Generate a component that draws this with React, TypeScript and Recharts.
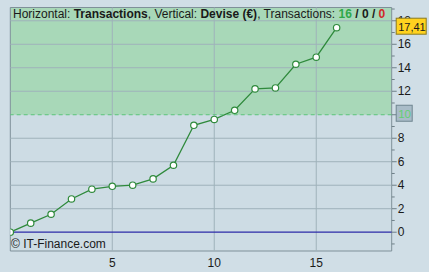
import React from 'react';
import { ComposedChart, Line, XAxis, YAxis, ReferenceLine, ReferenceArea } from 'recharts';

const transactions = [0, 1, 2, 3, 4, 5, 6, 7, 8, 9, 10, 11, 12, 13, 14, 15, 16];
const devise = [0, 0.77, 1.53, 2.83, 3.66, 3.91, 4.0, 4.54, 5.7, 9.1, 9.6, 10.38, 12.2, 12.28, 14.3, 14.9, 17.41];
const xTicks = [5, 10, 15];
const yTicks = [-1, 0, 1, 2, 3, 4, 5, 6, 7, 8, 9, 10, 11, 12, 13, 14, 15, 16, 17, 18, 19];
const gridY = [2, 4, 6, 8, 12, 14, 16, 18];
const target = 10;
const lastLabel = '17,41';

const data = transactions.map((t, i) => ({ x: t, y: devise[i] }));

const FONT = '"Liberation Sans", Arial, sans-serif';
const X_DOMAIN: [number, number] = [0, 18.7];
const Y_DOMAIN: [number, number] = [-1.6, 19.13];

const YTick = (props: any) => {
  const { x, y, payload } = props;
  const v = payload.value;
  const major = v % 2 === 0;
  if (v === 10) {
    return <line x1={x} x2={x + 5} y1={y} y2={y} stroke="#6f8088" />;
  }
  return (
    <g>
      <line x1={x} x2={x + (major ? 5 : 3)} y1={y} y2={y} stroke="#6f8088" />
      {major && (
        <text x={x + 6} y={y + 4} fontSize={12} fontFamily={FONT} fill="#1a1a1a">
          {v}
        </text>
      )}
    </g>
  );
};

const TargetLabel = (props: any) => {
  const { viewBox } = props;
  const x = viewBox.x + viewBox.width + 4.5;
  const y = viewBox.y;
  return (
    <g>
      <rect x={x} y={y - 9.5} width={16} height={16} fill="#a9bcc8" stroke="#6f8590" />
      <text x={x + 2} y={y + 3} fontSize={11.5} fontFamily={FONT} fill="#62d072">
        {target}
      </text>
    </g>
  );
};

const LastLabel = (props: any) => {
  const { viewBox } = props;
  const x = viewBox.x + viewBox.width + 4.5;
  const y = viewBox.y;
  return (
    <g>
      <rect x={x} y={y - 9.5} width={30} height={16} fill="#ffd21f" stroke="#8a7a20" />
      <text x={x + 2} y={y + 3} fontSize={11} fontFamily={FONT} fill="#1a1a1a">
        {lastLabel}
      </text>
    </g>
  );
};

export default function App() {
  return (
    <div style={{ position: 'absolute', left: 0, top: 0, width: 429, height: 272, background: '#d0dee6' }}>
      <ComposedChart width={429} height={272} data={data} margin={{ top: 7.5, left: 10.3, right: 0, bottom: 0 }}>
        <XAxis
          dataKey="x"
          type="number"
          domain={X_DOMAIN}
          ticks={xTicks}
          allowDataOverflow
          height={21}
          axisLine={false}
          tickLine={false}
          tickMargin={1}
          tick={{ fontSize: 12, fontFamily: FONT, fill: '#1a1a1a' }}
        />
        <YAxis
          type="number"
          orientation="right"
          domain={Y_DOMAIN}
          ticks={yTicks}
          allowDataOverflow
          interval={0}
          width={37.3}
          axisLine={false}
          tickLine={false}
          tickSize={0}
          tickMargin={0}
          tick={<YTick />}
        />
        <ReferenceArea x1={0} x2={18.7} y1={-1.6} y2={19.13} fill="#cddce4" fillOpacity={1} stroke="none" />
        <ReferenceArea x1={0} x2={18.7} y1={target} y2={19.13} fill="#a8d8b8" fillOpacity={1} stroke="none" />
        {gridY.map((g) => (
          <ReferenceLine key={'gy' + g} y={g} stroke="#9fb2ba" strokeWidth={1} />
        ))}
        {xTicks.map((g) => (
          <ReferenceLine key={'gx' + g} x={g} stroke="#9fb2ba" strokeWidth={1} />
        ))}
        <ReferenceLine y={target} stroke="#5cc47a" strokeDasharray="4 3" label={<TargetLabel />} zIndex={2500} />
        <ReferenceLine y={0} stroke="#2b2ba8" strokeWidth={1.2} />
        <ReferenceArea x1={0} x2={18.7} y1={-1.6} y2={19.13} fill="none" stroke="#7f9099" strokeWidth={1} />
        <Line
          dataKey="y"
          type="linear"
          stroke="#2f8a3c"
          strokeWidth={1.3}
          dot={{ r: 3.2, fill: '#ffffff', stroke: '#2f8a3c', strokeWidth: 1.2 }}
          isAnimationActive={false}
        />
        <ReferenceLine y={devise[devise.length - 1]} stroke="none" label={<LastLabel />} zIndex={2500} />
      </ComposedChart>
      <div
        style={{
          position: 'absolute',
          left: 13,
          top: 7,
          fontFamily: FONT,
          fontSize: 12,
          color: '#1a1a1a',
          whiteSpace: 'nowrap',
          lineHeight: '14px',
        }}
      >
        Horizontal: <b>Transactions</b>, Vertical: <b>Devise (€)</b>, Transactions:{' '}
        <b style={{ color: '#2ea84a' }}>16</b>
        <b> / 0 / </b>
        <b style={{ color: '#d02a2a' }}>0</b>
      </div>
      <div
        style={{
          position: 'absolute',
          left: 11,
          top: 237,
          fontFamily: FONT,
          fontSize: 12,
          color: '#1a1a1a',
          whiteSpace: 'nowrap',
          lineHeight: '14px',
        }}
      >
        © IT-Finance.com
      </div>
    </div>
  );
}
